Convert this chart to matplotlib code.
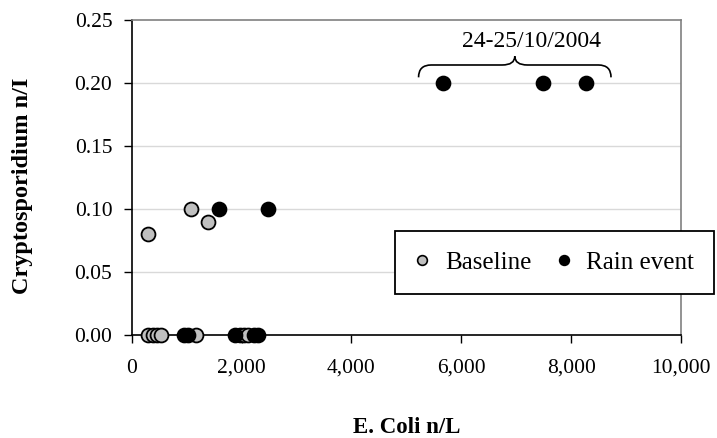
import matplotlib
matplotlib.use("Agg")
import matplotlib.pyplot as plt
from matplotlib.path import Path
from matplotlib.patches import PathPatch
from matplotlib.ticker import FuncFormatter

plt.rcParams['font.family'] = ['Liberation Serif', 'DejaVu Serif']

# Data
baseline_x = [290, 380, 460, 540, 1170, 1970, 2040, 2110, 290, 1074, 1383]
baseline_y = [0, 0, 0, 0, 0, 0, 0, 0, 0.08, 0.10, 0.09]
rain_x = [950, 1030, 1880, 2220, 2290, 1589, 2476, 5662, 7482, 8271]
rain_y = [0, 0, 0, 0, 0, 0.10, 0.10, 0.20, 0.20, 0.20]
x_ticks = [0, 2000, 4000, 6000, 8000, 10000]
y_ticks = [0.00, 0.05, 0.10, 0.15, 0.20, 0.25]
event_label = "24-25/10/2004"
series_names = ["Baseline", "Rain event"]

fig = plt.figure(figsize=(7.17, 4.38), dpi=100)
ax = fig.add_axes([0.1837, 0.2352, 0.9498 - 0.1837, 0.9543 - 0.2352])

ax.set_xlim(x_ticks[0], x_ticks[-1])
ax.set_ylim(y_ticks[0], y_ticks[-1])
ax.set_xticks(x_ticks)
ax.set_yticks(y_ticks)
ax.xaxis.set_major_formatter(FuncFormatter(lambda v, p: f"{int(v):,}"))
ax.yaxis.set_major_formatter(FuncFormatter(lambda v, p: f"{v:.2f}"))
ax.tick_params(axis='both', direction='out', length=5.5, width=1.0,
               labelsize=15.5, colors='black')
ax.tick_params(axis='x', pad=11.5)
ax.tick_params(axis='y', pad=8.5)

for yv in y_ticks[1:-1]:
    ax.axhline(yv, color='#d9d9d9', lw=1.0, zorder=0)

for s in ['left', 'bottom']:
    ax.spines[s].set_color('black')
    ax.spines[s].set_linewidth(1.2)
for s in ['top', 'right']:
    ax.spines[s].set_color('#808080')
    ax.spines[s].set_linewidth(1.2)

ax.plot(baseline_x, baseline_y, ls='none', marker='o', ms=10,
        mfc='#c0c0c0', mec='black', mew=1.3, zorder=3, clip_on=False)
ax.plot(rain_x, rain_y, ls='none', marker='o', ms=10,
        mfc='black', mec='black', mew=1.3, zorder=4, clip_on=False)

# Brace over the rain event cluster at 0.20
ev_x = [x for x, y in zip(rain_x, rain_y) if y >= 0.2]
x0 = min(ev_x) - 440
x1 = max(ev_x) + 455
xm = (x0 + x1) / 2
yl, yt, yp = 0.2045, 0.2143, 0.2212
r = 230
verts = [(x0, yl), (x0, yt), (x0 + r, yt),
         (xm - r, yt),
         (xm, yt), (xm, yp),
         (xm, yt), (xm + r, yt),
         (x1 - r, yt),
         (x1, yt), (x1, yl)]
codes = [Path.MOVETO, Path.CURVE3, Path.CURVE3,
         Path.LINETO,
         Path.CURVE3, Path.CURVE3,
         Path.CURVE3, Path.CURVE3,
         Path.LINETO,
         Path.CURVE3, Path.CURVE3]
ax.add_patch(PathPatch(Path(verts, codes), fill=False, lw=1.2, ec='black', zorder=5))
ax.text(7280, 0.2328, event_label, ha='center', va='center', fontsize=17)

ax.set_xlabel("E. Coli n/L", fontsize=16.5, fontweight='bold')
ax.set_ylabel("Cryptosporidium n/I", fontsize=17.5, fontweight='bold')
ax.xaxis.set_label_coords(0.5, -0.295)
ax.yaxis.set_label_coords(-0.199, 0.473)
ax.xaxis.label.set_va('center')
ax.yaxis.label.set_va('center')

h1 = plt.Line2D([], [], ls='none', marker='o', ms=7, mfc='#c0c0c0', mec='black', mew=1.2)
h2 = plt.Line2D([], [], ls='none', marker='o', ms=7, mfc='black', mec='black', mew=1.2)
leg = fig.legend([h1, h2], series_names, loc='center',
                 bbox_to_anchor=(554.5 / 717, 1 - 262.5 / 438),
                 ncol=2, fontsize=18, frameon=True, fancybox=False,
                 borderpad=0.8, handlelength=0.6, handletextpad=0.6,
                 columnspacing=1.0, borderaxespad=0)
leg.get_frame().set_edgecolor('black')
leg.get_frame().set_linewidth(1.3)
leg.get_frame().set_alpha(1)

fig.savefig("out.png", dpi=100)
